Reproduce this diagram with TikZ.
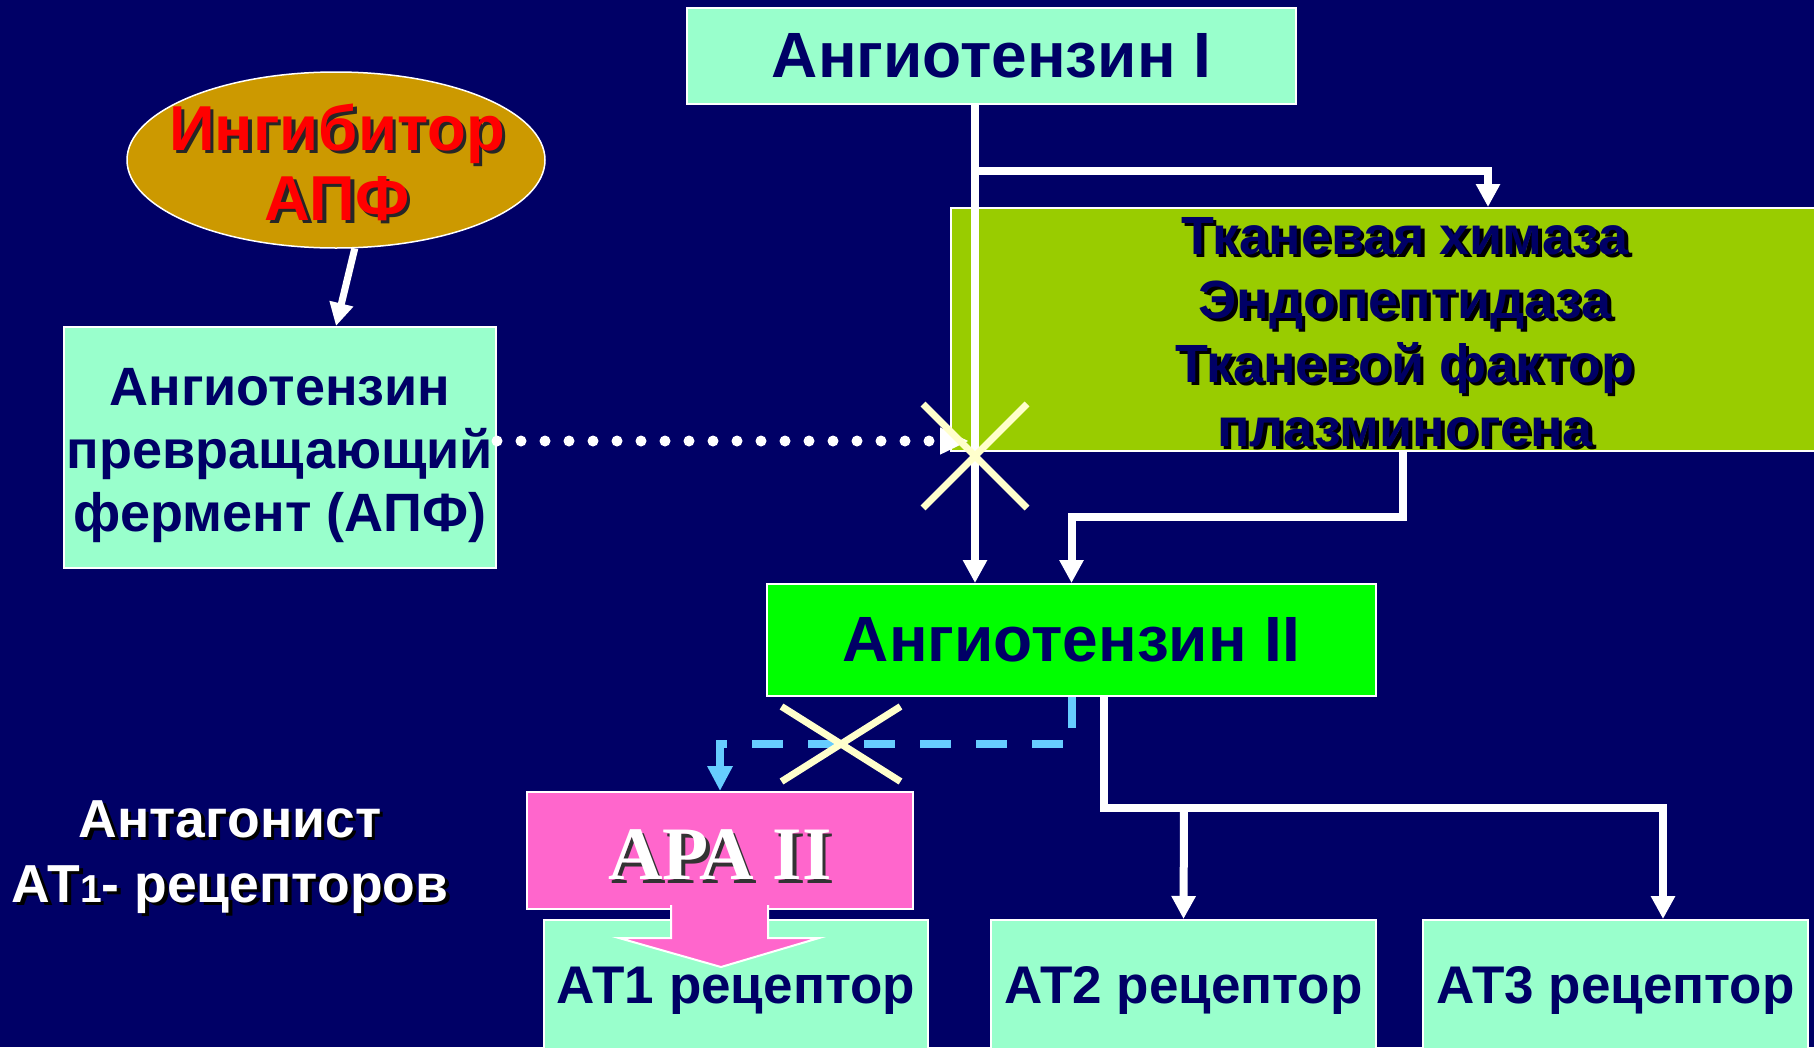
\documentclass[tikz,border=0pt]{standalone}
\usepackage{fontspec}
\setmainfont{Liberation Sans}
\newfontfamily\serifface{Liberation Serif}
\usetikzlibrary{arrows.meta,calc,shapes.geometric,shapes.misc}

\definecolor{bgnavy}{HTML}{000066}
\definecolor{mint}{HTML}{99FFCC}
\definecolor{olivebox}{HTML}{99CC00}
\definecolor{brightgreen}{HTML}{00FF00}
\definecolor{pinkbox}{HTML}{FF66CC}
\definecolor{goldfill}{HTML}{CC9900}
\definecolor{cream}{HTML}{FFFFCC}
\definecolor{skyblue}{HTML}{66CCFF}

% text with a drop shadow: style, name, position, shadow colour, text
\newcommand\castlabel[5]{%
  \node[#1, text=#4] (#2-shadow) at ($(#3)+(3.5,3.5)$) {#5};
  \node[#1] (#2) at (#3) {#5};
}

\begin{document}
\begin{tikzpicture}[x=1pt,y=-1pt,
  box/.style={rectangle, draw=white, line width=2pt, inner sep=0pt},
  titlefont/.style={font=\fontsize{64}{74}\selectfont\bfseries, text=bgnavy},
  acefont/.style={font=\fontsize{54}{63}\selectfont\bfseries, text=bgnavy, align=center},
  enzfont/.style={font=\fontsize{53.8}{64}\selectfont\bfseries, text=bgnavy, align=center, inner sep=0pt},
  inhfont/.style={font=\fontsize{63.5}{70}\selectfont\bfseries, text=red, align=center, inner sep=0pt},
  antfont/.style={font=\fontsize{53.5}{65}\selectfont\bfseries, text=white, align=center, inner sep=0pt},
  apafont/.style={font=\fontsize{75.5}{82}\selectfont\serifface\bfseries, text=white, inner sep=0pt},
  rcptfont/.style={font=\fontsize{53}{60}\selectfont\bfseries, text=bgnavy},
  conn/.style={draw=white, line width=8pt, -{Triangle[length=23pt,width=23pt]}},
  blocked/.style={draw=skyblue, line width=8pt, dash pattern=on 31pt off 25pt,
    -{Triangle[length=25pt,width=24pt]}},
  dotconn/.style={draw=white, line width=11pt, line cap=round, dash pattern=on 0pt off 24pt,
    -{Triangle[length=29pt,width=25pt]}},
  crossmark/.style={cross out, draw=cream, line width=7pt, inner sep=0pt},
]
\useasboundingbox (0,0) rectangle (1814,1047);
\clip (0,0) rectangle (1814,1047);
\fill[bgnavy] (0,0) rectangle (1814,1047);

% boxes
\node[box, fill=mint, minimum width=609pt, minimum height=96pt, titlefont] (ang1) at (991.5,56) {Ангиотензин I};

\node[ellipse, draw=white, line width=1.5pt, fill=goldfill, minimum width=418pt, minimum height=176pt, inner sep=0pt] (inh) at (336,160) {};
\castlabel{inhfont}{inhtext}{337,162}{black!85}{Ингибитор\\АПФ}

\node[box, fill=mint, minimum width=432pt, minimum height=241pt] (ace) at (280,447.5) {};
\node[acefont] (acetext) at (280,456) {Ангиотензин\\превращающий\\фермент (АПФ)};

\node[box, fill=olivebox, minimum width=909pt, minimum height=243pt] (enz) at (1405.5,329.5) {};
\castlabel{enzfont}{enztext}{1405,332}{black}{Тканевая химаза\\Эндопептидаза\\Тканевой фактор\\плазминогена}

\node[box, fill=brightgreen, minimum width=609pt, minimum height=112pt, titlefont] (ang2) at (1071.5,640) {Ангиотензин II};

\node[box, fill=pinkbox, minimum width=386pt, minimum height=117pt] (apa) at (720,850.5) {};
\castlabel{apafont}{apatext}{720,855}{black!80}{АРА II}

\node[box, fill=mint, minimum width=384pt, minimum height=141pt, rcptfont, anchor=north] (at1) at (736,919) {АТ1 рецептор};
\node[box, fill=mint, minimum width=385pt, minimum height=141pt, rcptfont, anchor=north] (at2) at (1183.5,919) {АТ2 рецептор};
\node[box, fill=mint, minimum width=385pt, minimum height=141pt, rcptfont, anchor=north] (at3) at (1615.5,919) {АТ3 рецептор};

\castlabel{antfont}{antag}{230,857}{black}{Антагонист\\АТ{\fontsize{39}{40}\selectfont 1}- рецепторов}

% block arrow from the antagonist into the AT1 receptor
\draw[white, line width=2pt, fill=pinkbox] (671,905) -- (671,938) -- (619,938) -- (721,967)
  -- (819,938) -- (768,938) -- (768,905);

% connectors
\coordinate (trunk) at (975,0);
\coordinate (split) at (975,171);
\coordinate (enzin) at (1488,0);
\coordinate (enzout) at (1403,517);
\coordinate (rcpt) at (1104,808);
\coordinate (at2in) at (1184,808);
\coordinate (at3in) at (1663,0);
\coordinate (dotrow) at (0,441);
\coordinate (dotend) at (969,441);
\coordinate (apadash) at (0,744);

\draw[conn] (ang1.south -| trunk) -- (ang2.north -| trunk);
\draw[conn] (split) -| (enz.north -| enzin);
\draw[conn] (enz.south -| enzout) -- (enzout) -| (ang2.north);
\draw[conn] (ang2.south -| rcpt) -- (rcpt) -| (at3.north -| at3in);
\draw[conn] (at2in) -- (at2.north);
\draw[blocked] (ang2.south) -- (ang2.south |- apadash) -| (apa.north);
\draw[dotconn] (ace.east |- dotrow) -- (dotend);
\draw[conn, line width=7pt] (inh.-78) -- (ace.north -| inh.south);

% blocked pathways
\node[crossmark, minimum width=97pt, minimum height=97pt] (stopace) at (975,456) {};
\node[crossmark, minimum width=112pt, minimum height=68pt] (stopat1) at (841,744) {};
\end{tikzpicture}
\end{document}
